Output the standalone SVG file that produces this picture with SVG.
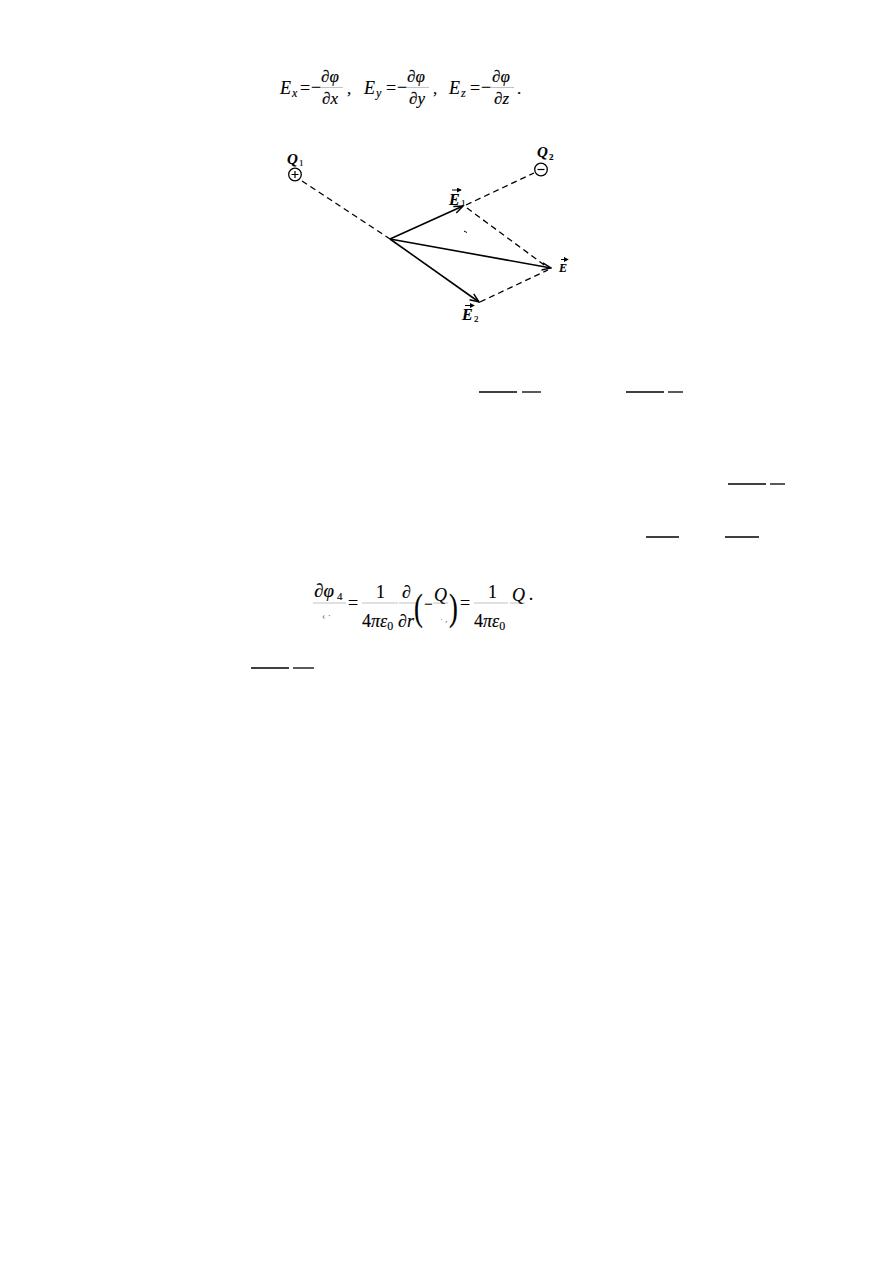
<svg xmlns="http://www.w3.org/2000/svg" width="893" height="1263" viewBox="0 0 893 1263">
<style>
  .m { font-family: "Liberation Serif", "DejaVu Serif", serif; fill: #000; stroke: #000; stroke-width: 0.15; }
  .i { font-style: italic; }
  .b { font-weight: bold; }
  .g { fill: #666; stroke: none; }
  .vec { stroke: #000; stroke-width: 1.6; fill: none; }
  .dash { stroke: #000; stroke-width: 1.3; stroke-dasharray: 6 4; fill: none; }
  .bar { stroke: #000; stroke-width: 1.3; }
  .fb { stroke: #999; stroke-width: 0.6; }
  .tiny { stroke: #000; stroke-width: 1; fill: none; }
</style>
<defs>
  <marker id="ah" viewBox="0 0 12 10" refX="11" refY="5" markerWidth="11" markerHeight="9" markerUnits="userSpaceOnUse" orient="auto">
    <path d="M1,1 L11,5 L1,9" stroke="#000" stroke-width="1.6" fill="none"/>
  </marker>
  <marker id="sa" viewBox="0 0 6 6" refX="5" refY="3" markerWidth="5" markerHeight="5" markerUnits="userSpaceOnUse" orient="auto">
    <path d="M0,0 L6,3 L0,6 Z" fill="#000"/>
  </marker>
</defs>
<rect width="893" height="1263" fill="#fff"/>

<!-- Formula 1 -->
<g id="formula1" class="m">
  <text x="280" y="94" font-size="18" class="i">E</text>
  <text x="292" y="97" font-size="12" class="i">x</text>
  <text x="300" y="94" font-size="18">=</text>
  <text x="311" y="93" font-size="18">−</text>
  <line class="fb" x1="321" y1="87.5" x2="343" y2="87.5"/>
  <text x="321" y="82" font-size="17" class="i">∂φ</text>
  <text x="322" y="104" font-size="17" class="i">∂x</text>
  <text x="347" y="94" font-size="17">,</text>
  <text x="364" y="94" font-size="18" class="i">E</text>
  <text x="376" y="97" font-size="12" class="i">y</text>
  <text x="386" y="94" font-size="18">=</text>
  <text x="397" y="93" font-size="18">−</text>
  <line class="fb" x1="407" y1="87.5" x2="429" y2="87.5"/>
  <text x="407" y="82" font-size="17" class="i">∂φ</text>
  <text x="409" y="104" font-size="17" class="i">∂y</text>
  <text x="433" y="94" font-size="17">,</text>
  <text x="449" y="94" font-size="18" class="i">E</text>
  <text x="461" y="97" font-size="12" class="i">z</text>
  <text x="470" y="94" font-size="18">=</text>
  <text x="481" y="93" font-size="18">−</text>
  <line class="fb" x1="491" y1="87.5" x2="514" y2="87.5"/>
  <text x="492" y="82" font-size="17" class="i">∂φ</text>
  <text x="494" y="104" font-size="17" class="i">∂z</text>
  <text x="517" y="94" font-size="17">.</text>
</g>

<!-- Connectors -->
<g id="connectors">
  <line class="dash" x1="302" y1="181" x2="390" y2="239"/>
  <line class="dash" x1="466" y1="205" x2="534" y2="173"/>
  <line class="dash" x1="467" y1="208" x2="547" y2="267"/>
  <line class="dash" x1="480" y1="302" x2="548" y2="270"/>
  <line class="vec" x1="390" y1="239" x2="463" y2="206" marker-end="url(#ah)"/>
  <line class="vec" x1="390" y1="239" x2="479" y2="302" marker-end="url(#ah)"/>
  <line class="vec" x1="390" y1="239" x2="551" y2="268" marker-end="url(#ah)"/>
  <line class="tiny" x1="464" y1="231" x2="467" y2="232.5"/>
</g>

<!-- Charges -->
<g id="Q1">
  <circle cx="295" cy="174.5" r="6.3" fill="#fff" stroke="#000" stroke-width="1.3"/>
  <path d="M291.5,174.5 H298.5 M295,171 V178" stroke="#000" stroke-width="1.2"/>
  <text class="m i b" x="287" y="164" font-size="15">Q</text>
  <text class="m" x="299" y="166" font-size="9">1</text>
</g>
<g id="Q2">
  <circle cx="541" cy="169.5" r="6.3" fill="#fff" stroke="#000" stroke-width="1.3"/>
  <path d="M537.5,169.5 H544.5" stroke="#000" stroke-width="1.2"/>
  <text class="m i b" x="537" y="157" font-size="15">Q</text>
  <text class="m b" x="549" y="160" font-size="9">2</text>
</g>

<!-- Vector labels -->
<g id="E1label">
  <text class="m i b" x="449" y="205" font-size="16">E</text>
  <text class="m" x="461" y="206" font-size="9">1</text>
  <line x1="452" y1="190" x2="461" y2="190" stroke="#000" stroke-width="1" marker-end="url(#sa)"/>
</g>
<g id="Elabel">
  <text class="m i b" x="559" y="272" font-size="12">E</text>
  <line x1="561" y1="259.5" x2="568" y2="259.5" stroke="#000" stroke-width="1" marker-end="url(#sa)"/>
</g>
<g id="E2label">
  <text class="m i b" x="462" y="320" font-size="16">E</text>
  <text class="m" x="474" y="322" font-size="9">2</text>
  <line x1="465" y1="305.5" x2="474" y2="305.5" stroke="#000" stroke-width="1" marker-end="url(#sa)"/>
</g>

<!-- Stray fraction bars -->
<g id="bars">
  <line class="bar" x1="479" y1="392" x2="517" y2="392"/>
  <line class="bar" x1="522" y1="392" x2="541" y2="392"/>
  <line class="bar" x1="626" y1="392" x2="664" y2="392"/>
  <line class="bar" x1="668" y1="392" x2="683" y2="392"/>
  <line class="bar" x1="728" y1="484" x2="766" y2="484"/>
  <line class="bar" x1="770" y1="484" x2="785" y2="484"/>
  <line class="bar" x1="646" y1="537" x2="679" y2="537"/>
  <line class="bar" x1="725" y1="537" x2="759" y2="537"/>
  <line class="bar" x1="251" y1="668" x2="289" y2="668"/>
  <line class="bar" x1="293" y1="668" x2="314" y2="668"/>
</g>

<!-- Formula 2 -->
<g id="formula2" class="m">
  <text x="314" y="597" font-size="19" class="i">∂φ</text>
  <text x="337" y="600" font-size="11">4</text>
  <line class="fb" x1="313" y1="603" x2="346" y2="603"/>
  <text x="322" y="619" font-size="10" class="g">‹ ·</text>
  <text x="348" y="609" font-size="18">=</text>
  <text x="376" y="598" font-size="18">1</text>
  <line class="fb" x1="362" y1="603" x2="398" y2="603"/>
  <text x="362" y="627" font-size="18">4<tspan class="i">πε</tspan><tspan font-size="12" dy="3">0</tspan></text>
  <text x="402" y="598" font-size="18" class="i">∂</text>
  <line class="fb" x1="399" y1="603" x2="416" y2="603"/>
  <text x="398" y="627" font-size="18" class="i">∂r</text>
  <text x="0" y="620" font-size="38" transform="translate(414,0) scale(0.7,1)">(</text>
  <text x="424" y="609" font-size="15">−</text>
  <text x="434" y="601" font-size="18" class="i">Q</text>
  <line class="fb" x1="433" y1="603" x2="448" y2="603"/>
  <text x="440" y="622" font-size="9" class="g">· ,</text>
  <text x="0" y="620" font-size="38" transform="translate(449,0) scale(0.7,1)">)</text>
  <text x="460" y="609" font-size="18">=</text>
  <text x="488" y="598" font-size="18">1</text>
  <line class="fb" x1="474" y1="603" x2="508" y2="603"/>
  <text x="474" y="627" font-size="18">4<tspan class="i">πε</tspan><tspan font-size="12" dy="3">0</tspan></text>
  <text x="512" y="601" font-size="18" class="i">Q</text>
  <line class="fb" x1="510" y1="603" x2="525" y2="603"/>
  <text x="528" y="605" font-size="18">·</text>
</g>
</svg>
